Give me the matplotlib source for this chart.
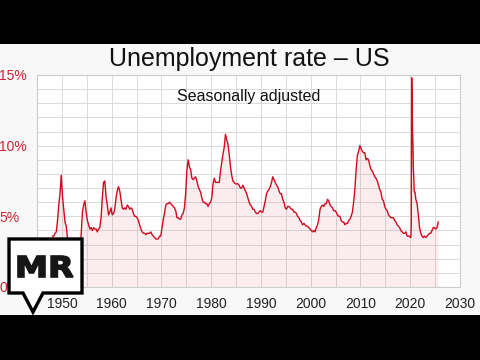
import numpy as np
import matplotlib
matplotlib.use('Agg')
import matplotlib.pyplot as plt
from matplotlib.patches import Rectangle, Polygon, PathPatch
from matplotlib.textpath import TextPath
from matplotlib.font_manager import FontProperties
from matplotlib.path import Path

plt.rcParams['font.family'] = ['Liberation Sans', 'DejaVu Sans']

# quarterly unemployment rate (%) 1948-2019
rate_1948_2019 = [
    3.6, 3.6, 3.8, 3.9,  4.7, 5.8, 6.6, 7.9,  6.4, 5.5, 4.6, 4.3,  3.5, 3.1, 3.2, 3.4,
    3.1, 3.0, 3.2, 2.8,  2.7, 2.6, 2.7, 3.7,  5.3, 5.8, 6.1, 5.3,  4.7, 4.4, 4.1, 4.2,
    4.0, 4.2, 4.1, 4.1,  3.9, 4.1, 4.2, 4.9,  6.3, 7.4, 7.5, 6.4,  5.8, 5.1, 5.3, 5.6,
    5.1, 5.2, 5.5, 6.3,  6.8, 7.1, 6.8, 6.2,  5.6, 5.5, 5.6, 5.5,  5.8, 5.7, 5.5, 5.6,
    5.5, 5.2, 5.0, 5.0,  4.9, 4.7, 4.4, 4.1,  3.9, 3.8, 3.8, 3.7,  3.8, 3.8, 3.8, 3.9,
    3.7, 3.6, 3.5, 3.4,  3.4, 3.4, 3.6, 3.6,  4.2, 4.8, 5.2, 5.8,  5.9, 5.9, 6.0, 5.9,
    5.8, 5.7, 5.6, 5.4,  4.9, 4.9, 4.8, 4.8,  5.1, 5.2, 5.6, 6.6,  8.3, 9.0, 8.5, 8.3,
    7.7, 7.6, 7.7, 7.8,  7.5, 7.1, 6.9, 6.7,  6.3, 6.0, 6.0, 5.9,  5.9, 5.7, 5.9, 6.0,
    6.3, 7.3, 7.7, 7.4,  7.4, 7.4, 7.4, 8.2,  8.8, 9.4, 9.9, 10.8, 10.4, 10.1, 9.4, 8.5,
    7.9, 7.5, 7.4, 7.3,  7.3, 7.3, 7.2, 7.0,  7.0, 7.2, 7.0, 6.8,  6.6, 6.3, 6.0, 5.8,
    5.7, 5.5, 5.5, 5.3,  5.2, 5.2, 5.3, 5.4,  5.3, 5.3, 5.7, 6.1,  6.6, 6.8, 6.9, 7.1,
    7.4, 7.8, 7.6, 7.4,  7.2, 7.1, 6.8, 6.6,  6.6, 6.2, 6.0, 5.6,  5.5, 5.7, 5.7, 5.6,
    5.5, 5.5, 5.3, 5.3,  5.2, 5.0, 4.9, 4.7,  4.6, 4.4, 4.5, 4.4,  4.3, 4.3, 4.2, 4.1,
    4.0, 3.9, 4.0, 3.9,  4.2, 4.4, 4.8, 5.5,  5.7, 5.8, 5.7, 5.9,  5.9, 6.2, 6.1, 5.8,
    5.7, 5.6, 5.4, 5.4,  5.3, 5.1, 5.0, 5.0,  4.7, 4.6, 4.6, 4.4,  4.5, 4.5, 4.7, 4.8,
    5.0, 5.3, 6.0, 6.9,  8.3, 9.3, 9.6, 10.0, 9.8, 9.6, 9.5, 9.5,  9.0, 9.1, 9.0, 8.6,
    8.3, 8.2, 8.0, 7.8,  7.7, 7.5, 7.2, 6.9,  6.7, 6.2, 6.1, 5.7,  5.5, 5.4, 5.1, 5.0,
    4.9, 4.9, 4.9, 4.7,  4.6, 4.4, 4.3, 4.2,  4.0, 3.9, 3.8, 3.8,  3.9, 3.6, 3.6, 3.6,
]
# monthly 2020 (covid spike)
rate_2020 = [3.5, 3.5, 4.4, 14.8, 13.2, 11.0, 10.2, 8.4, 7.8, 6.8, 6.7, 6.7]
# quarterly 2021 onwards
rate_2021_on = [6.2, 5.9, 5.1, 4.2,  3.8, 3.6, 3.5, 3.6,  3.5, 3.6, 3.7, 3.8,
                3.8, 4.0, 4.2, 4.2,  4.1, 4.2, 4.6]

x_labels = [1950, 1960, 1970, 1980, 1990, 2000, 2010, 2020, 2030]
y_ticks = [0, 5, 10, 15]
y_labels = ['0%', '5%', '10%', '15%']

t = np.concatenate([1948 + (np.arange(len(rate_1948_2019)) + 0.5) / 4,
                    2020 + (np.arange(12) + 0.5) / 12,
                    2021 + (np.arange(len(rate_2021_on)) + 0.5) / 4])
u = np.array(rate_1948_2019 + rate_2020 + rate_2021_on)

W, H = 480, 360
fig = plt.figure(figsize=(4.8, 3.6), dpi=100, facecolor='black')
def fx(px): return px / W
def fy(py): return 1 - py / H

# light panel between the black letterbox bars
fig.patches.append(Rectangle((0, fy(315)), 1, fy(44) - fy(315), transform=fig.transFigure,
                             facecolor='#f8f8f8', edgecolor='none', zorder=-10))

ax = fig.add_axes([fx(37), fy(287), fx(460) - fx(37), fy(75) - fy(287)])
ax.set_facecolor('white')
red = '#d10a20'
ax.fill_between(t, u, 0, color=red, alpha=0.07, lw=0, zorder=2)
ax.plot(t, u, color=red, lw=1.0, zorder=3)

ax.set_xlim(1945, 2030); ax.set_ylim(0, 15)
ax.set_xticks(x_labels); ax.set_xticklabels([str(v) for v in x_labels])
ax.set_xticks(np.arange(1945, 2031, 5), minor=True)
ax.set_yticks(y_ticks); ax.set_yticklabels(y_labels)
ax.set_yticks(np.arange(0, 16, 1), minor=True)
ax.grid(True, which='both', color='#dadada', lw=0.7, zorder=1)
ax.set_axisbelow(True)
ax.tick_params(which='both', length=0)
ax.tick_params(axis='x', labelsize=10, pad=7, labelcolor='#222222')
ax.tick_params(axis='y', labelsize=10, pad=27, labelcolor='#cc2233')
for lbl in ax.get_yticklabels():
    lbl.set_horizontalalignment('left')
for s in ax.spines.values():
    s.set_color('#cccccc'); s.set_linewidth(0.8)

fig.text(fx(249), fy(59), 'Unemployment rate \u2013 US', ha='center', va='center',
         fontsize=18, color='#111111')
fig.text(fx(249), fy(97), 'Seasonally adjusted', ha='center', va='center',
         fontsize=11.5, color='#111111')

# MR watermark bubble
bubble = [(9, 239), (82, 239), (82, 293), (43, 293), (33, 312), (23, 293), (9, 293)]
fig.patches.append(Polygon([(fx(a), fy(b)) for a, b in bubble], closed=True,
                           transform=fig.transFigure, facecolor='white',
                           edgecolor='black', lw=2.4, joinstyle='miter', zorder=5))
# "MR" glyphs stretched into the box they occupy in the logo (x 18-73, y 256-277 px)
tp = TextPath((0, 0), 'MR', size=20, prop=FontProperties(family='DejaVu Sans', weight='bold'))
v = tp.vertices
keep = tp.codes != Path.CLOSEPOLY
x0, y0 = v[keep].min(axis=0); x1, y1 = v[keep].max(axis=0)
px = 18 + (v[:, 0] - x0) / (x1 - x0) * 55
py = 277 - (v[:, 1] - y0) / (y1 - y0) * 21
mr = Path(np.column_stack([fx(px), fy(py)]), tp.codes)
fig.patches.append(PathPatch(mr, transform=fig.transFigure, facecolor='#161616',
                             edgecolor='#161616', lw=1.2, joinstyle='miter', zorder=6))

fig.savefig('out.png', dpi=100, facecolor=fig.get_facecolor())
